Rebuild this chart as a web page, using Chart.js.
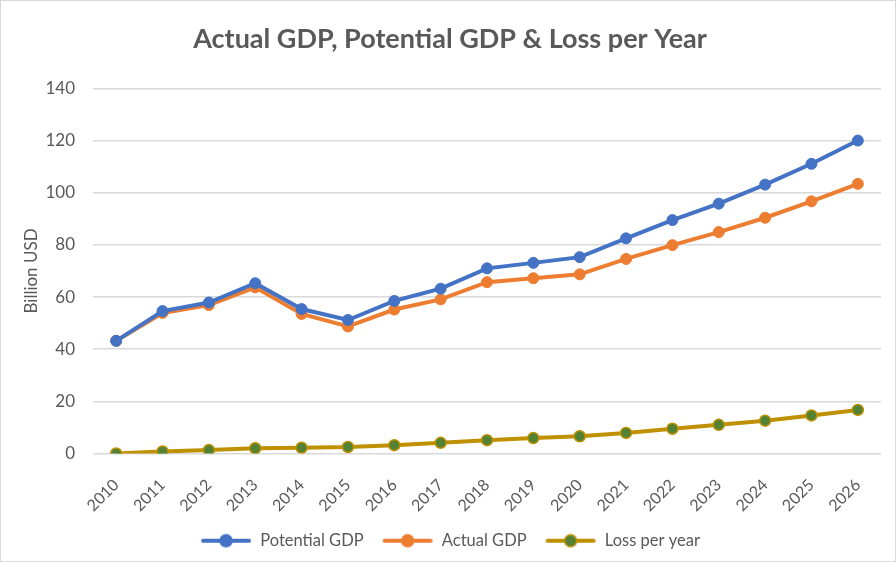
<!DOCTYPE html>
<html>
<head>
<meta charset="utf-8">
<script src="https://cdn.jsdelivr.net/npm/chart.js@4.4.1/dist/chart.umd.min.js"></script>
<style>
  html, body { margin: 0; padding: 0; background: #fff; }
  #wrap { width: 894px; height: 560px; border: 1px solid #d9d9d9; }
</style>
</head>
<body>
<div id="wrap"><canvas id="myChart" width="894" height="560"></canvas></div>
<script>
var years = ['2010', '2011', '2012', '2013', '2014', '2015', '2016', '2017', '2018',
             '2019', '2020', '2021', '2022', '2023', '2024', '2025', '2026'];
var potentialGdp = [43.2, 54.6, 57.9, 65.3, 55.4, 51.2, 58.5, 63.2, 71.0,
                    73.1, 75.3, 82.5, 89.5, 95.8, 103.1, 111.1, 120.0];
var actualGdp = [43.2, 53.9, 56.9, 63.7, 53.5, 48.7, 55.2, 59.1, 65.7,
                 67.2, 68.7, 74.6, 79.9, 84.9, 90.4, 96.7, 103.4];
var lossPerYear = [0.0, 0.8, 1.3, 2.0, 2.2, 2.5, 3.2, 4.1, 5.1,
                   5.9, 6.6, 7.9, 9.5, 11.0, 12.6, 14.6, 16.7];

var textColor = '#595959';
var gridColor = '#d9d9d9';

// legend marker: short line with a dot on it
function legendMarker(lineColor, fillColor, borderColor) {
    var c = document.createElement('canvas');
    c.width = 52;
    c.height = 16;
    var ctx = c.getContext('2d');
    ctx.strokeStyle = lineColor;
    ctx.lineWidth = 4;
    ctx.lineCap = 'round';
    ctx.beginPath();
    ctx.moveTo(3, 8);
    ctx.lineTo(49, 8);
    ctx.stroke();
    ctx.beginPath();
    ctx.arc(26, 8, 6, 0, Math.PI * 2);
    ctx.fillStyle = fillColor;
    ctx.fill();
    ctx.lineWidth = 1.5;
    ctx.strokeStyle = borderColor;
    ctx.stroke();
    return c;
}

var markers = [
    legendMarker('#4472c4', '#4472c4', '#4472c4'),
    legendMarker('#ed7d31', '#ed7d31', '#ed7d31'),
    legendMarker('#bf9000', '#548235', '#bf9000')
];

new Chart('myChart', {
    type: 'line',
    data: {
        labels: years,
        datasets: [{
            label: 'Potential GDP',
            data: potentialGdp,
            borderColor: '#4472c4',
            backgroundColor: '#4472c4',
            pointBackgroundColor: '#4472c4',
            pointBorderColor: '#4472c4',
            borderWidth: 4,
            pointRadius: 5.5,
            pointBorderWidth: 1,
            tension: 0
        }, {
            label: 'Actual GDP',
            data: actualGdp,
            borderColor: '#ed7d31',
            backgroundColor: '#ed7d31',
            pointBackgroundColor: '#ed7d31',
            pointBorderColor: '#ed7d31',
            borderWidth: 4,
            pointRadius: 5.5,
            pointBorderWidth: 1,
            tension: 0
        }, {
            label: 'Loss per year',
            data: lossPerYear,
            borderColor: '#bf9000',
            backgroundColor: '#548235',
            pointBackgroundColor: '#548235',
            pointBorderColor: '#bf9000',
            borderWidth: 4,
            pointRadius: 5.5,
            pointBorderWidth: 1.5,
            tension: 0
        }]
    },
    options: {
        responsive: false,
        animation: false,
        layout: {
            padding: { left: 18, right: 14, top: 22, bottom: 2 }
        },
        plugins: {
            title: {
                display: true,
                text: 'Actual GDP, Potential GDP & Loss per Year',
                color: textColor,
                font: { family: 'Lato', size: 27, weight: 'bold' },
                padding: { top: 0, bottom: 33 }
            },
            legend: {
                position: 'bottom',
                labels: {
                    usePointStyle: true,
                    pointStyleWidth: 52,
                    color: textColor,
                    font: { family: 'Lato', size: 16.5 },
                    padding: 18,
                    generateLabels: function (chart) {
                        return chart.data.datasets.map(function (ds, i) {
                            return {
                                text: ds.label,
                                pointStyle: markers[i],
                                fontColor: textColor,
                                strokeStyle: ds.borderColor,
                                fillStyle: ds.backgroundColor,
                                lineWidth: 0,
                                datasetIndex: i
                            };
                        });
                    }
                }
            },
            tooltip: { enabled: false }
        },
        scales: {
            x: {
                offset: true,
                grid: { display: false },
                border: { display: false },
                ticks: {
                    color: textColor,
                    font: { family: 'Lato', size: 16 },
                    minRotation: 45,
                    maxRotation: 45,
                    padding: 14
                },
                afterFit: function (scale) { scale.height = 61; }
            },
            y: {
                min: 0,
                max: 140,
                grid: { color: gridColor, lineWidth: 1.5, drawTicks: false },
                border: { display: false },
                ticks: {
                    stepSize: 20,
                    color: textColor,
                    font: { family: 'Lato', size: 17 },
                    padding: 18
                },
                title: {
                    display: true,
                    text: 'Billion USD',
                    color: textColor,
                    font: { family: 'Lato', size: 17, weight: 'normal' },
                    padding: { top: 2, bottom: 4 }
                },
                afterFit: function (scale) { scale.width = 74; }
            }
        }
    }
});
</script>
</body>
</html>
